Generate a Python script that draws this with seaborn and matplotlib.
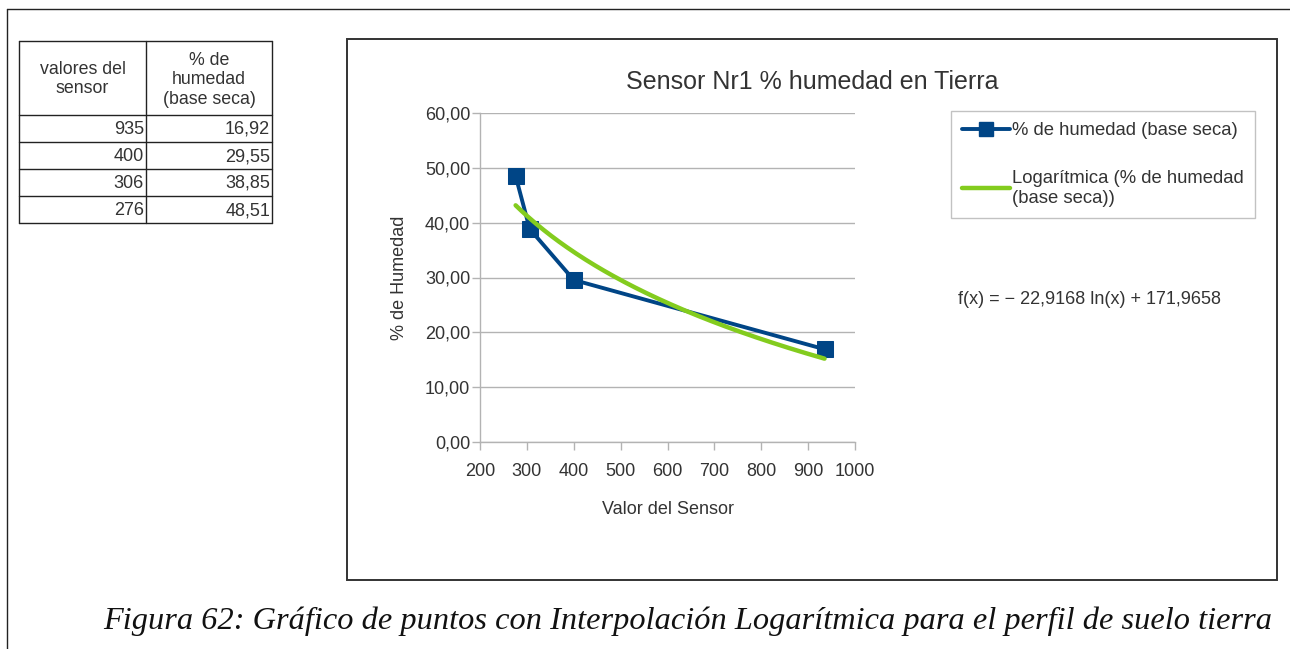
import numpy as np
import pandas as pd
import matplotlib
matplotlib.use("Agg")
import matplotlib.pyplot as plt
import seaborn as sns
from matplotlib.ticker import FuncFormatter, MultipleLocator
from matplotlib.lines import Line2D

sensor_values = [935, 400, 306, 276]
humedad = [16.92, 29.55, 38.85, 48.51]
table_header = ["valores del\nsensor", "% de\nhumedad\n(base seca)"]

series_label = "% de humedad (base seca)"
trend_label = "Logarítmica (% de humedad\n(base seca))"
title = "Sensor Nr1 % humedad en Tierra"
caption = ("Figura 62: Gráfico de puntos con Interpolación Logarítmica "
           "para el perfil de suelo tierra")

BLUE = "#004586"
GREEN = "#83cc1e"
GRID = "#b3b3b3"
TXT = "#333333"

sns.set_theme(style="white")
plt.rcParams["font.family"] = ["Liberation Sans", "DejaVu Sans"]

W, H = 1290, 649
fig = plt.figure(figsize=(W / 100, H / 100), dpi=100)

# overlay axes in pixel coordinates for frames, table and caption
over = fig.add_axes([0, 0, 1, 1])
over.set_xlim(0, W)
over.set_ylim(H, 0)
over.axis("off")

# page frame
over.plot([7, W], [9, 9], color="#222222", lw=1.0)
over.plot([7, 7], [9, H], color="#222222", lw=1.0)

# chart frame
over.add_patch(plt.Rectangle((347, 39), 930, 541, fill=False,
                             edgecolor="#333333", lw=1.4))

# table
col_x = [19, 146, 272]
row_y = [41, 115, 142, 169, 196, 223]
for x in col_x:
    over.plot([x, x], [row_y[0], row_y[-1]], color="#222222", lw=1.0)
for y in row_y:
    over.plot([col_x[0], col_x[-1]], [y, y], color="#222222", lw=1.0)
over.text((col_x[0] + col_x[1]) / 2, 79, table_header[0], ha="center",
          va="center", fontsize=12.8, color=TXT, linespacing=1.2)
over.text((col_x[1] + col_x[2]) / 2, 80, table_header[1], ha="center",
          va="center", fontsize=12.8, color=TXT, linespacing=1.2)
for i, (s, h) in enumerate(zip(sensor_values, humedad)):
    yc = (row_y[i + 1] + row_y[i + 2]) / 2 + 1
    over.text(col_x[1] - 2, yc, f"{s}", ha="right", va="center",
              fontsize=13, color=TXT)
    over.text(col_x[2] - 2, yc, f"{h:.2f}".replace(".", ","), ha="right",
              va="center", fontsize=13, color=TXT)

# caption
over.text(688, 621, caption, ha="center", va="center", fontsize=23.3,
          style="italic", family=["Liberation Serif", "DejaVu Serif"],
          color="#111111")

# chart
ax = fig.add_axes([480 / W, 1 - 442 / H, 375 / W, 329 / H])
df = pd.DataFrame({"x": sensor_values, "y": humedad})
sns.lineplot(data=df, x="x", y="y", sort=False, ax=ax, color=BLUE, lw=2.8,
             marker="s", markersize=11, markeredgecolor=BLUE, zorder=3)

# logarithmic trend fitted from the data
b, a = np.polyfit(np.log(sensor_values), humedad, 1)
xs = np.linspace(min(sensor_values), max(sensor_values), 200)
trend = pd.DataFrame({"x": xs, "y": a + b * np.log(xs)})
sns.lineplot(data=trend, x="x", y="y", ax=ax, color=GREEN, lw=3.2, zorder=4)

ax.set_xlim(200, 1000)
ax.set_ylim(0, 60)
ax.xaxis.set_major_locator(MultipleLocator(100))
ax.yaxis.set_major_locator(MultipleLocator(10))
ax.yaxis.set_major_formatter(FuncFormatter(lambda v, p: f"{v:.2f}".replace(".", ",")))
ax.grid(axis="y", color=GRID, lw=1.0)
for side in ["top", "right"]:
    ax.spines[side].set_visible(False)
for side in ["left", "bottom"]:
    ax.spines[side].set_color(GRID)
    ax.spines[side].set_linewidth(1.0)
ax.tick_params(axis="both", which="both", direction="out", length=6,
               width=1.0, color=GRID, labelsize=13, labelcolor=TXT,
               left=True, bottom=True)
ax.tick_params(axis="x", pad=9)
ax.tick_params(axis="y", pad=1)
ax.set_xlabel("Valor del Sensor", fontsize=13, color=TXT, labelpad=15)
ax.set_ylabel("% de Humedad", fontsize=13, color=TXT, labelpad=12)

fig.text(812 / W, 1 - 82 / H, title, ha="center", va="center", fontsize=18,
         color=TXT)

handles = [
    Line2D([], [], color=BLUE, lw=2.8, marker="s", markersize=10),
    Line2D([], [], color=GREEN, lw=3.2),
]
leg = fig.legend(handles, [series_label, trend_label],
                 loc="upper left", bbox_to_anchor=(951 / W, 1 - 111 / H),
                 fontsize=13.3, frameon=True, fancybox=False,
                 handlelength=2.6, handletextpad=0.1, borderpad=0.6,
                 labelspacing=1.65, borderaxespad=0)
leg.get_frame().set_edgecolor(GRID)
leg.get_frame().set_linewidth(1.0)
for t in leg.get_texts():
    t.set_color(TXT)
    t.set_linespacing(1.25)

fig.text(958 / W, 1 - 300 / H, "f(x) = \u2212 22,9168 ln(x) + 171,9658",
         ha="left", va="center", fontsize=13, color=TXT)

fig.savefig("out.png", dpi=100)
